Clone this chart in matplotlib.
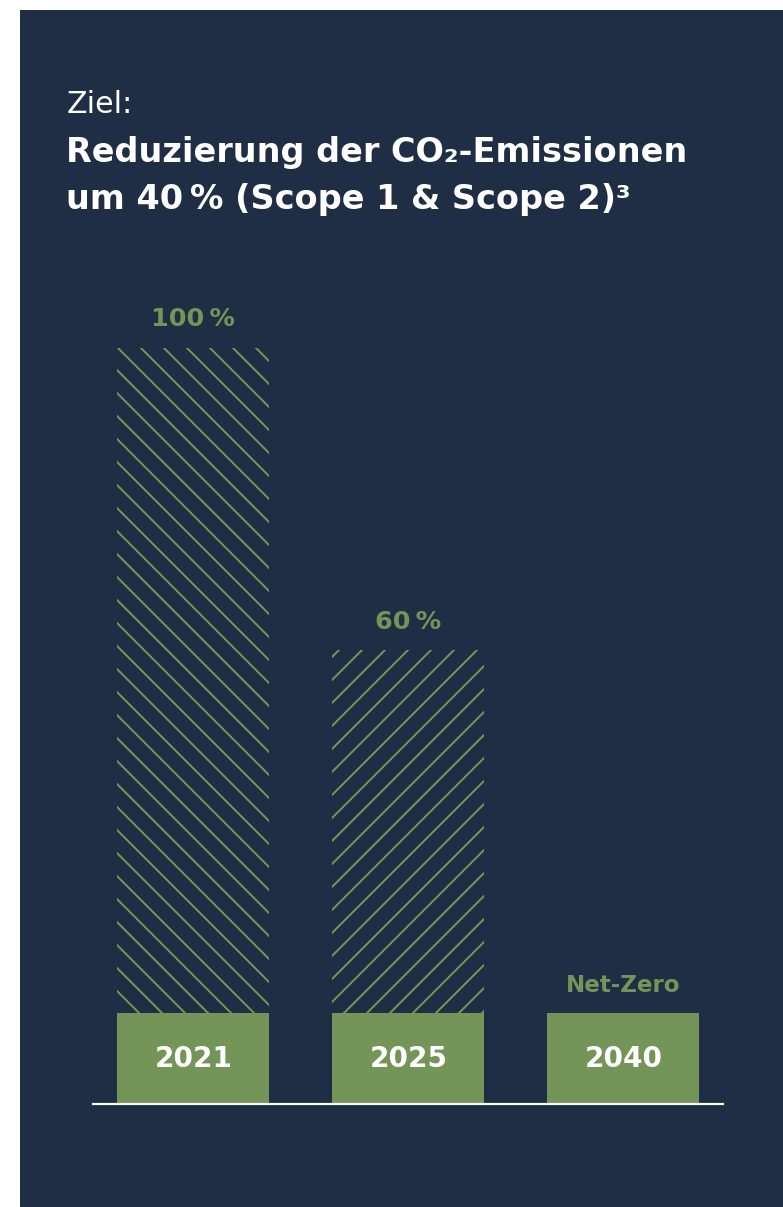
import matplotlib
matplotlib.use("Agg")
import matplotlib.pyplot as plt
from matplotlib.patches import Rectangle

# ---- data ----
years = ["2021", "2025", "2040"]
values = [100, 60, 0]
value_labels = ["100\u2009%", "60\u2009%", "Net-Zero"]
hatches = ["\\\\", "//", ""]
title_small = "Ziel:"
title_lines = ["Reduzierung der CO\u2082-Emissionen", "um 40\u2009% (Scope 1 & Scope 2)\u00b3"]

# ---- style ----
NAVY = "#1f2e44"
GREEN = "#739557"
WHITE = "#ffffff"
DPI = 138
W, H = 783, 1207
BASE = 12.0  # height of solid year block in data units

plt.rcParams["font.family"] = ["DejaVu Sans"]

def pt(px):
    return px * 72.0 / DPI

plt.rcParams["hatch.linewidth"] = pt(2.0)

fig = plt.figure(figsize=(W / DPI, H / DPI), dpi=DPI, facecolor="white")
fig.patches.append(Rectangle((20 / W, 0), 1 - 20 / W, (H - 10) / H,
                             transform=fig.transFigure, facecolor=NAVY,
                             edgecolor="none", zorder=-10))

# title
fig.text(67 / W, 1 - 113 / H, title_small, color=WHITE, fontsize=pt(30),
         fontweight="normal", va="baseline", ha="left")
fig.text(66 / W, 1 - 162 / H, title_lines[0], color=WHITE, fontsize=pt(33.5),
         fontweight="bold", va="baseline", ha="left")
fig.text(66 / W, 1 - 209 / H, title_lines[1], color=WHITE, fontsize=pt(33.5),
         fontweight="bold", va="baseline", ha="left")

# axes
left, right = 93 / W, 723 / W
bottom, top = (H - 1104) / H, (H - 347.5) / H
ax = fig.add_axes([left, bottom, right - left, top - bottom])
ax.set_facecolor("none")
ax.set_xlim(-0.4665, 2.4637)
ax.set_ylim(0, 100)
for s in ax.spines.values():
    s.set_visible(False)
ax.set_xticks([])
ax.set_yticks([])

x = list(range(len(years)))
width = 0.707

# hatched bars
for xi, v, h in zip(x, values, hatches):
    if v > 0:
        ax.bar(xi, v, width=width, color="none", edgecolor=GREEN,
               linewidth=0, hatch=h, zorder=2)

# solid year blocks
ax.bar(x, [BASE] * len(x), width=width, color=GREEN, linewidth=0, zorder=3)

# baseline
ax.axhline(0, color=WHITE, linewidth=pt(2.2), zorder=4, clip_on=False)

# labels
for xi, v, lab, yr in zip(x, values, value_labels, years):
    ytop = max(v, BASE)
    fs = pt(25.5) if v > 0 else pt(23)
    ax.annotate(lab, (xi, ytop), xytext=(0, pt(21)), textcoords="offset points",
                ha="center", va="baseline", color=GREEN, fontsize=fs,
                fontweight="bold", annotation_clip=False)
    ax.text(xi, BASE / 2, yr, ha="center", va="center", color=WHITE,
            fontsize=pt(28), fontweight="bold", zorder=5)

fig.savefig("out.png", dpi=DPI, facecolor=fig.get_facecolor())
